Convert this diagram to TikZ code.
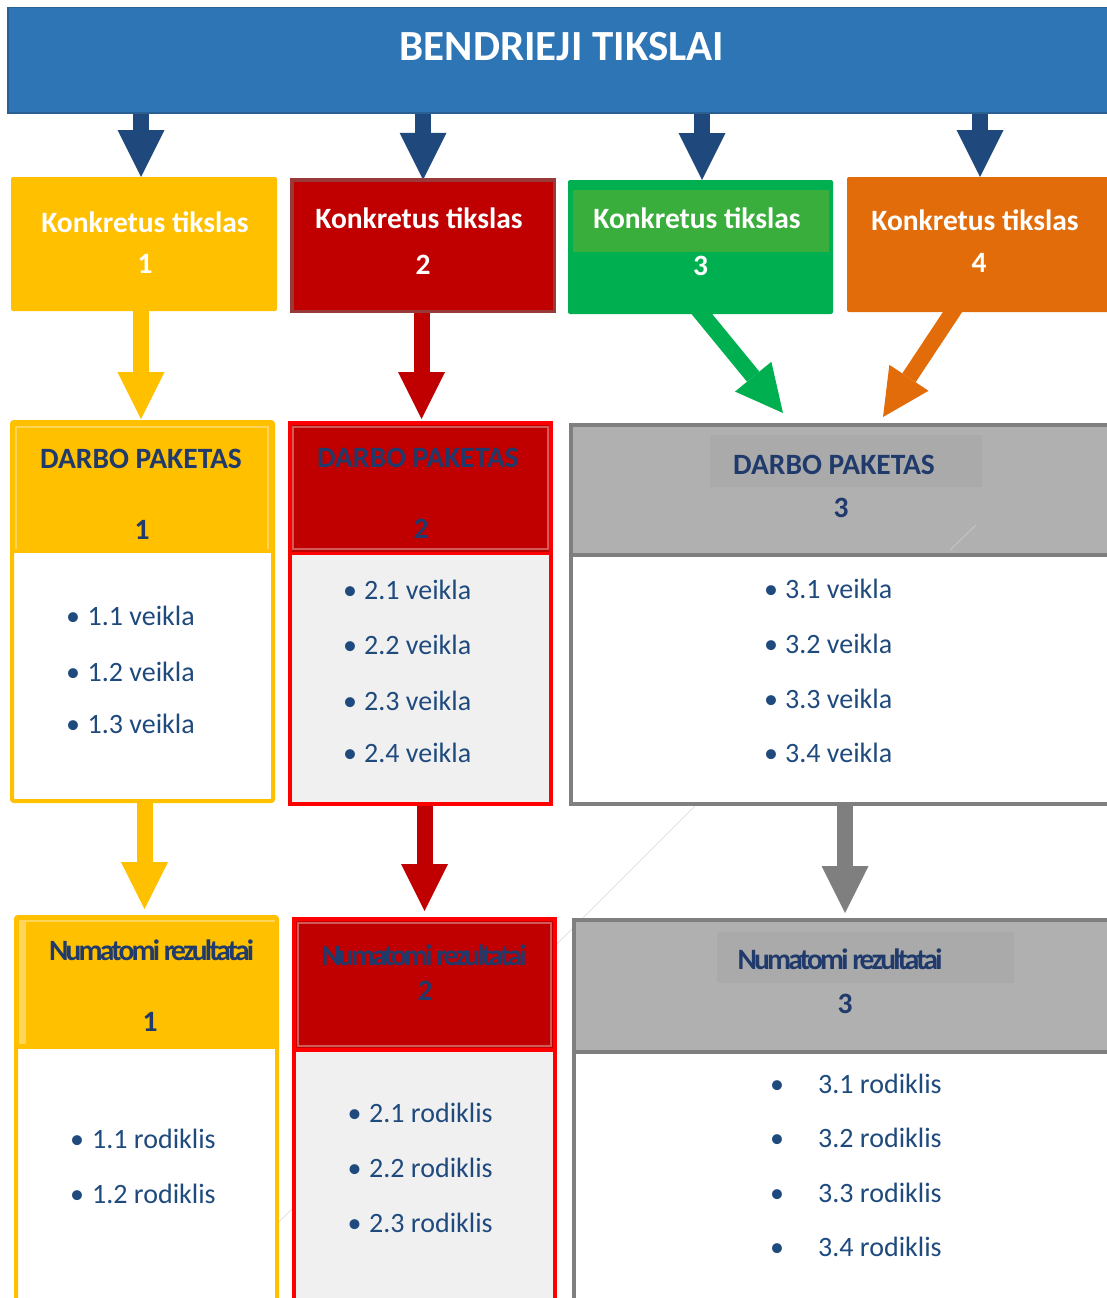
\documentclass[tikz,border=0pt]{standalone}
\usepackage{fontspec}
\setmainfont{Carlito}
\usetikzlibrary{arrows.meta}
\definecolor{ban}{HTML}{2E75B6}
\definecolor{banedge}{HTML}{2A5F94}
\definecolor{navarrow}{HTML}{1F497D}
\definecolor{kyel}{HTML}{FFC000}
\definecolor{kred}{HTML}{C00000}
\definecolor{kredge}{HTML}{983A3A}
\definecolor{kgrn}{HTML}{00B050}
\definecolor{kgrnband}{HTML}{3AAE3C}
\definecolor{korg}{HTML}{E36C0A}
\definecolor{brightred}{HTML}{FF0000}
\definecolor{gedge}{HTML}{7F7F7F}
\definecolor{gfill}{HTML}{B0B0B0}
\definecolor{gband}{HTML}{AAAAAA}
\definecolor{lgray}{HTML}{F0F0F0}
\definecolor{navtxt}{HTML}{1F3A6B}
\definecolor{bultxt}{HTML}{1F4A7E}
\definecolor{paleyel}{HTML}{FFD659}
\definecolor{palered}{HTML}{D45A5A}
\definecolor{faintc}{HTML}{E4E4E4}
\definecolor{faintd}{HTML}{C4C4C4}
\pgfdeclarelayer{bglayer}
\pgfdeclarelayer{arrlayer}
\pgfsetlayers{bglayer,arrlayer,main}
\tikzset{
  box/.style={rectangle, inner sep=0pt, outer sep=0pt},
  ktxt/.style={inner sep=0pt, anchor=base, text=white, font=\bfseries\fontsize{29.5}{35}\selectfont},
  htxt/.style={inner sep=0pt, anchor=base, text=navtxt, font=\bfseries\fontsize{29.5}{35}\selectfont},
  nrtxt/.style={inner sep=0pt, anchor=base, text=navtxt, font=\bfseries\fontsize{29.5}{35}\selectfont\addfontfeatures{LetterSpace=-9.5}},
  bul/.style={inner sep=0pt, anchor=base, text=bultxt, font=\fontsize{28}{34}\selectfont},
  itm/.style={inner sep=0pt, anchor=base west, text=bultxt, font=\fontsize{28}{34}\selectfont},
  bigarr/.style={line width=16pt, -{Triangle[length=47pt,width=47pt,line width=0pt]}},
  faintline/.style={draw=faintc, line width=1pt},
}
\begin{document}
\begin{tikzpicture}[x=1pt,y=-1pt]
\useasboundingbox (0,0) rectangle (1107,1298);
\begin{pgfonlayer}{bglayer}
\fill[white] (0,0) rectangle (1107,1298);
\draw[faintline] (990,511) -- (270,1231);
\end{pgfonlayer}
\clip (0,0) rectangle (1107,1298);

% ---- banner
\node[box, fill=ban, draw=banedge, line width=1.5pt, minimum width=1120pt, minimum height=105pt, anchor=north west] (banner) at (7.75,7.75) {};
\node[ktxt, font=\bfseries\fontsize{43}{50}\selectfont] (title) at (562,60) {BENDRIEJI TIKSLAI};

% ---- Konkretus tikslas boxes
\node[box, fill=kyel, rounded corners=2pt, minimum width=266pt, minimum height=134pt] (kt1) at (144,244) {};
\node[box, fill=kred, draw=kredge, line width=3.5pt, minimum width=262.5pt, minimum height=131.5pt] (kt2) at (423,245.5) {};
\node[box, fill=kgrn, rounded corners=2pt, minimum width=265pt, minimum height=134pt] (kt3) at (700.5,247) {};
\fill[kgrnband] (573,190) rectangle (829,252);
\node[box, fill=korg, rounded corners=2pt, minimum width=273pt, minimum height=135pt] (kt4) at (983.5,244.5) {};

\node[ktxt] (kt1a) at (145,232) {Konkretus tikslas};
\node[ktxt] (kt1b) at (145,273) {1};
\node[ktxt] (kt2a) at (419,228) {Konkretus tikslas};
\node[ktxt] (kt2b) at (423,274) {2};
\node[ktxt] (kt3a) at (697,228) {Konkretus tikslas};
\node[ktxt] (kt3b) at (700.5,275) {3};
\node[ktxt] (kt4a) at (975,230) {Konkretus tikslas};
\node[ktxt] (kt4b) at (979,272) {4};

% ---- DARBO PAKETAS 1
\fill[white] (12,553) rectangle (273,801);
\fill[kyel] (12,422) rectangle (273,553);
\draw[paleyel, line width=2.5pt] (16,549) -- (16,427) -- (268,427) -- (268,549);
\node[box, draw=kyel, line width=4pt, rounded corners=2pt, minimum width=261pt, minimum height=379pt] (dp1) at (142.5,611.5) {};
\node[htxt] (dp1h) at (141,468) {DARBO PAKETAS};
\node[htxt] (dp1n) at (142,539) {1};
\node[bul] (dp1b1) at (73,625) {•};
\node[itm] (dp1i1) at (87.5,625) {1.1 veikla};
\node[bul] (dp1b2) at (73,681) {•};
\node[itm] (dp1i2) at (87.5,681) {1.2 veikla};
\node[bul] (dp1b3) at (73,733) {•};
\node[itm] (dp1i3) at (87.5,733) {1.3 veikla};

% ---- DARBO PAKETAS 2
\fill[lgray] (289.5,553) rectangle (551,804);
\fill[kred] (289.5,423) rectangle (551,552);
\draw[palered, line width=2pt] (293,427) rectangle (548,549);
\draw[brightred, line width=3.5pt] (289.5,553.5) -- (551,553.5);
\node[box, draw=brightred, line width=4pt, minimum width=261.5pt, minimum height=381pt] (dp2) at (420.25,613.5) {};
\node[htxt] (dp2h) at (418,467) {DARBO PAKETAS};
\node[htxt] (dp2n) at (421,538) {2};
\node[bul] (dp2b1) at (350,599) {•};
\node[itm] (dp2i1) at (364,599) {2.1 veikla};
\node[bul] (dp2b2) at (350,654) {•};
\node[itm] (dp2i2) at (364,654) {2.2 veikla};
\node[bul] (dp2b3) at (350,710) {•};
\node[itm] (dp2i3) at (364,710) {2.3 veikla};
\node[bul] (dp2b4) at (350,762) {•};
\node[itm] (dp2i4) at (364,762) {2.4 veikla};

% ---- DARBO PAKETAS 3
\fill[white] (571,555) rectangle (1120,804);
\fill[gfill] (571,425) rectangle (1120,555);
\fill[gband] (710,435) rectangle (982,487);
\draw[faintd, line width=1pt] (950,550) -- (976,525);
\draw[gedge, line width=4.5pt] (571,555) -- (1120,555);
\node[box, draw=gedge, line width=4.5pt, minimum width=549pt, minimum height=379pt, anchor=north west] (dp3) at (571,425) {};
\node[htxt] (dp3h) at (834,474) {DARBO PAKETAS};
\node[htxt] (dp3n) at (841,517) {3};
\node[bul] (dp3b1) at (771,598) {•};
\node[itm] (dp3i1) at (785,598) {3.1 veikla};
\node[bul] (dp3b2) at (771,653) {•};
\node[itm] (dp3i2) at (785,653) {3.2 veikla};
\node[bul] (dp3b3) at (771,708) {•};
\node[itm] (dp3i3) at (785,708) {3.3 veikla};
\node[bul] (dp3b4) at (771,762) {•};
\node[itm] (dp3i4) at (785,762) {3.4 veikla};

% ---- Numatomi rezultatai 1
\fill[white] (16,1049) rectangle (277,1320);
\fill[kyel] (16,917) rectangle (277,1049);
\fill[paleyel] (19,921) rectangle (26,1044);
\draw[paleyel, line width=1.5pt] (19,921) -- (275,921);
\node[box, draw=kyel, line width=4pt, rounded corners=2pt, minimum width=261pt, minimum height=400pt, anchor=north west] (nr1) at (16,917) {};
\node[nrtxt] (nr1h) at (151.5,960) {Numatomi rezultatai};
\node[htxt] (nr1n) at (150,1031) {1};
\node[bul] (nr1b1) at (77,1148) {•};
\node[itm] (nr1i1) at (92,1148) {1.1 rodiklis};
\node[bul] (nr1b2) at (77,1203) {•};
\node[itm] (nr1i2) at (92,1203) {1.2 rodiklis};

% ---- Numatomi rezultatai 2
\fill[lgray] (294,1050) rectangle (555,1320);
\fill[kred] (294,919) rectangle (555,1048);
\draw[palered, line width=2pt] (298,923) rectangle (551,1046);
\draw[brightred, line width=3.5pt] (294,1050) -- (555,1050);
\node[box, draw=brightred, line width=4pt, minimum width=261pt, minimum height=400pt, anchor=north west] (nr2) at (294,919) {};
\node[nrtxt] (nr2h) at (424,965) {Numatomi rezultatai};
\node[htxt] (nr2n) at (425,1000) {2};
\node[bul] (nr2b1) at (354.5,1122) {•};
\node[itm] (nr2i1) at (369,1122) {2.1 rodiklis};
\node[bul] (nr2b2) at (354.5,1177) {•};
\node[itm] (nr2i2) at (369,1177) {2.2 rodiklis};
\node[bul] (nr2b3) at (354.5,1232) {•};
\node[itm] (nr2i3) at (369,1232) {2.3 rodiklis};

% ---- Numatomi rezultatai 3
\fill[white] (574,1052) rectangle (1120,1320);
\fill[gfill] (574,920) rectangle (1120,1052);
\fill[gband] (717,932) rectangle (1014,983);
\draw[gedge, line width=4.5pt] (574,1052) -- (1120,1052);
\node[box, draw=gedge, line width=4.5pt, minimum width=546pt, minimum height=400pt, anchor=north west] (nr3) at (574,920) {};
\node[nrtxt] (nr3h) at (840,969) {Numatomi rezultatai};
\node[htxt] (nr3n) at (845,1013) {3};
\node[bul] (nr3b1) at (777,1093) {•};
\node[itm] (nr3i1) at (818,1093) {3.1 rodiklis};
\node[bul] (nr3b2) at (777,1147) {•};
\node[itm] (nr3i2) at (818,1147) {3.2 rodiklis};
\node[bul] (nr3b3) at (777,1202) {•};
\node[itm] (nr3i3) at (818,1202) {3.3 rodiklis};
\node[bul] (nr3b4) at (777,1256) {•};
\node[itm] (nr3i4) at (818,1256) {3.4 rodiklis};

% ---- connectors
\coordinate (c1) at (141,0);
\coordinate (c2) at (423,0);
\coordinate (c3) at (702,0);
\coordinate (c4) at (980,0);
\coordinate (y2) at (141,0);
\coordinate (r2) at (421.5,0);
\coordinate (y3) at (144.5,0);
\coordinate (r3) at (424.5,0);
\coordinate (g3) at (845,0);
\coordinate (gtip) at (783,413);
\coordinate (otip) at (883,417);
\begin{pgfonlayer}{arrlayer}
\draw[bigarr, navarrow] (banner.south -| c1) -- (kt1.north -| c1);
\draw[bigarr, navarrow] (banner.south -| c2) -- (kt2.north -| c2);
\draw[bigarr, navarrow] (banner.south -| c3) -- (kt3.north -| c3);
\draw[bigarr, navarrow] (banner.south -| c4) -- (kt4.north -| c4);
\draw[bigarr, kyel, shorten >=3pt] (kt1.south -| y2) -- (dp1.north -| y2);
\draw[bigarr, kred, shorten >=4pt] (kt2.south -| r2) -- (dp2.north -| r2);
\draw[bigarr, kgrn] ([xshift=-7.7pt,yshift=11pt]kt3.south) -- (gtip);
\draw[bigarr, korg] ([xshift=-25pt,yshift=9pt]kt4.south) -- (otip);
\draw[bigarr, kyel, shorten >=8pt] (dp1.south -| y3) -- (nr1.north -| y3);
\draw[bigarr, kred, shorten >=8pt] (dp2.south -| r3) -- (nr2.north -| r3);
\draw[bigarr, gedge, shorten >=7pt] (dp3.south -| g3) -- (nr3.north -| g3);
\end{pgfonlayer}
\end{tikzpicture}
\end{document}
